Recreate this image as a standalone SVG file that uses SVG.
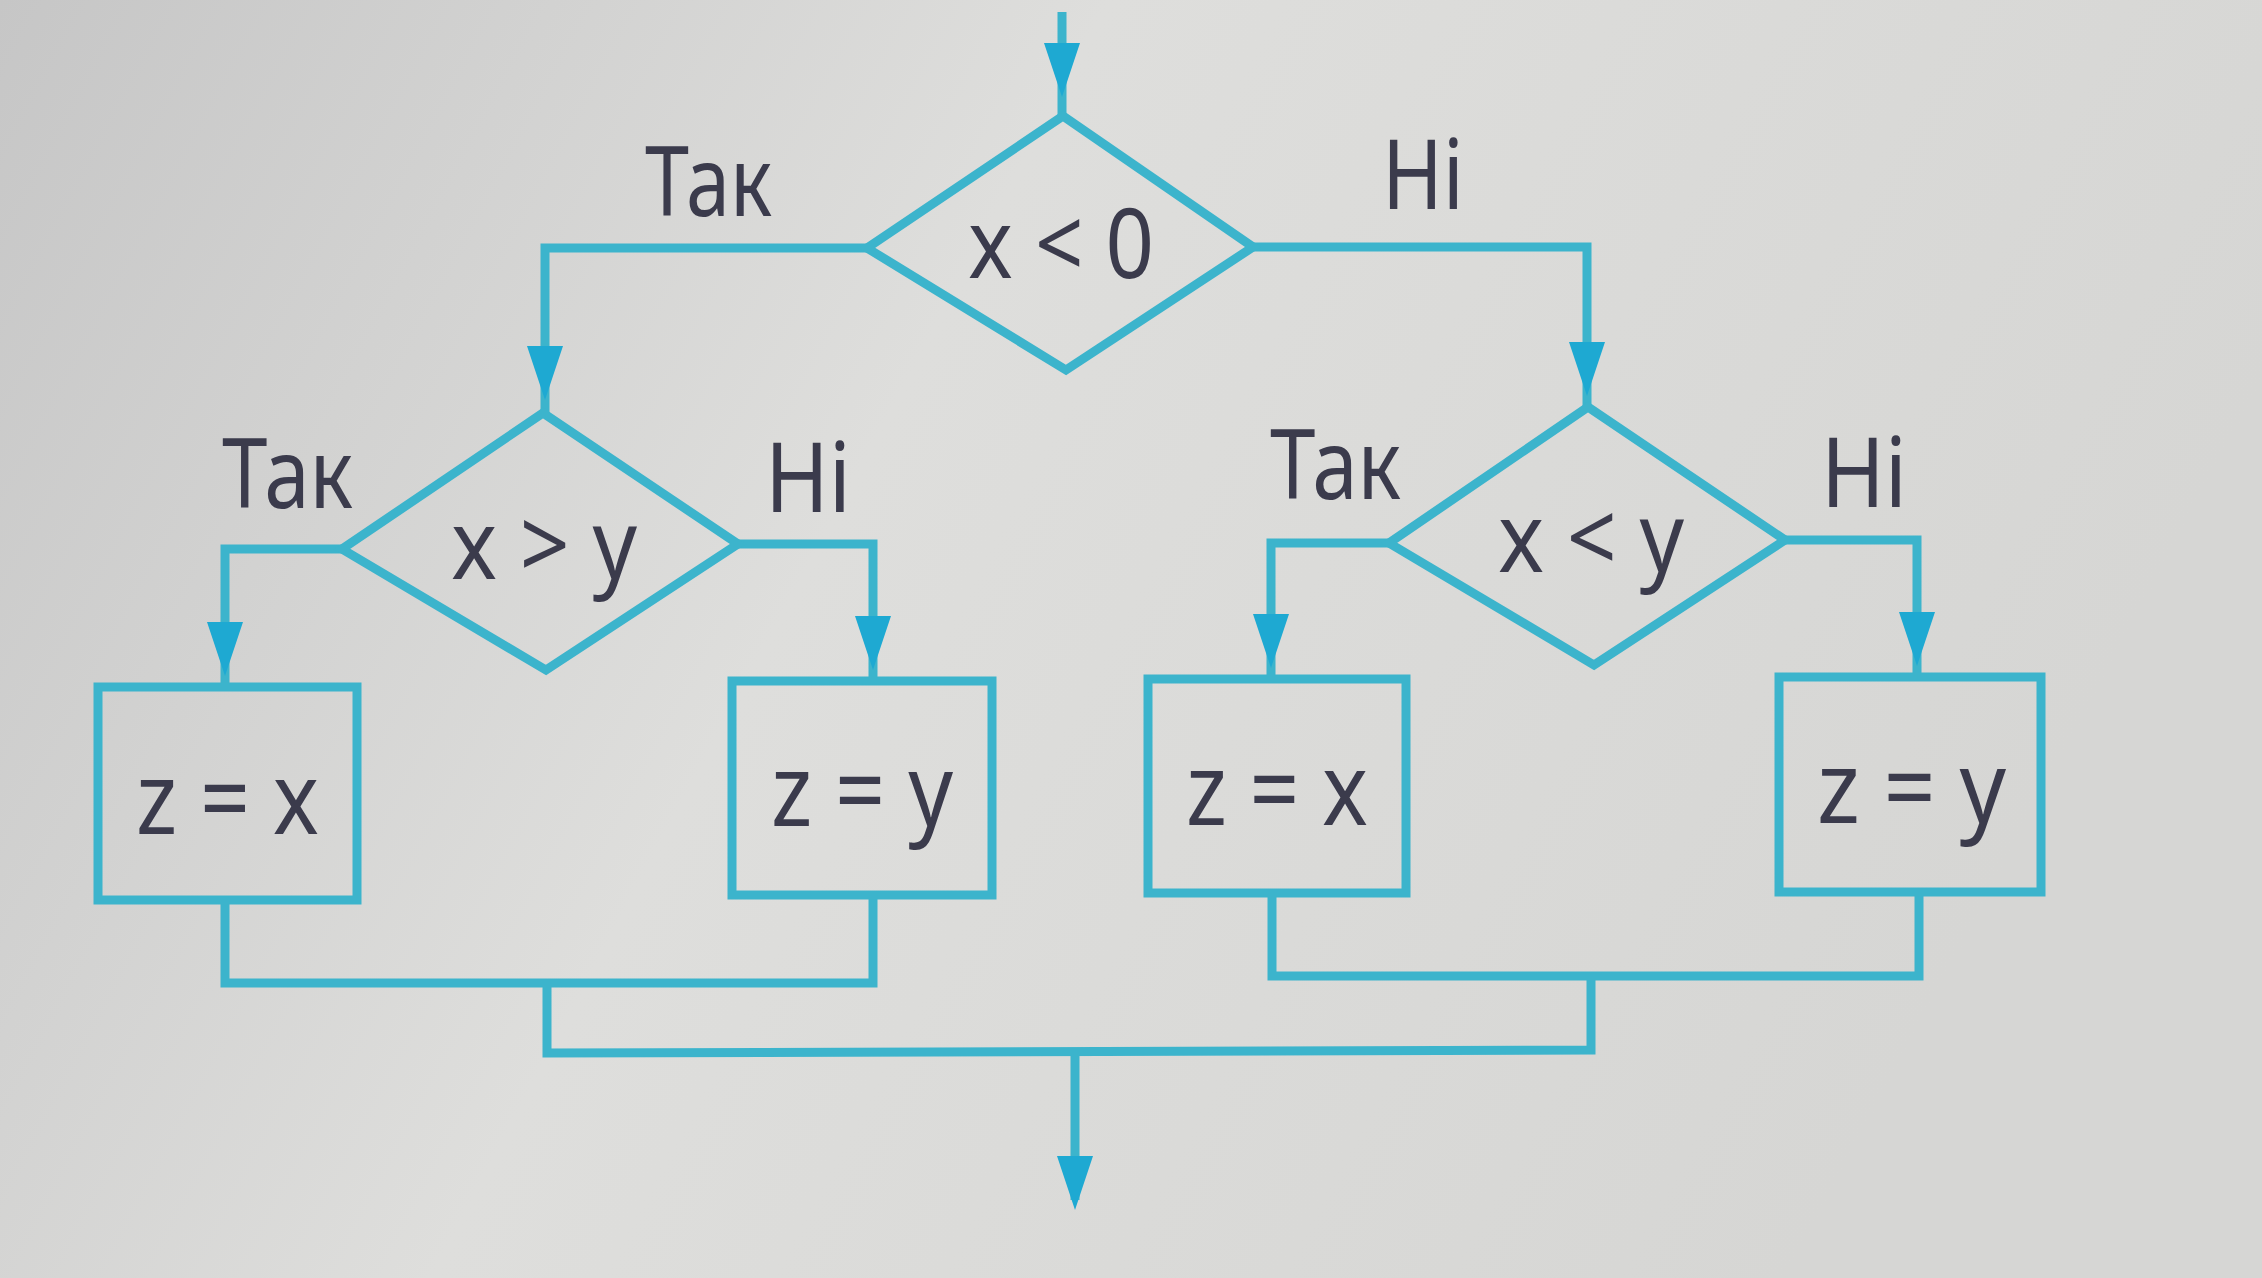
<svg xmlns="http://www.w3.org/2000/svg" width="2262" height="1278" viewBox="0 0 2262 1278">
<defs>
<linearGradient id="bg" x1="0" y1="0" x2="1" y2="0.3">
<stop offset="0" stop-color="#c6c6c6"/>
<stop offset="0.45" stop-color="#dededc"/>
<stop offset="1" stop-color="#d6d6d4"/>
</linearGradient>
<path id="ah" d="M-18,-54 L18,-54 L0,0 Z"/>
<style>
.ln{fill:none;stroke:#3cb4cc;stroke-width:9;stroke-linejoin:miter}
.sh{fill:none;stroke:#3cb4cc;stroke-width:9}
.hd{fill:#1ea9d2}
.t{font-family:"Noto Sans","Liberation Sans",sans-serif;fill:#3b3b4c}
.lb{font-size:97px}
.ex{font-size:96px}
.bx{font-size:100px}
</style>
</defs>
<rect width="2262" height="1278" fill="url(#bg)"/>

<g id="connectors">
<path class="ln" d="M1062,12 L1062,116"/>
<path class="ln" d="M867,248 L545,248 L545,413"/>
<path class="ln" d="M1253,247 L1587,247 L1587,407"/>
<path class="ln" d="M342,549 L225,549 L225,687"/>
<path class="ln" d="M738,544 L873,544 L873,681"/>
<path class="ln" d="M1389,543 L1271,543 L1271,679"/>
<path class="ln" d="M1785,540 L1917,540 L1917,677"/>
<path class="ln" d="M225,900 L225,983 L873,983 L873,895"/>
<path class="ln" d="M1272,893 L1272,976 L1919,976 L1919,892"/>
<path class="ln" d="M547,983 L547,1053 L1591,1050 L1591,976"/>
<path class="ln" d="M1075,1052 L1075,1200"/>
<use href="#ah" class="hd" x="1062" y="97"/>
<use href="#ah" class="hd" x="545" y="400"/>
<use href="#ah" class="hd" x="1587" y="396"/>
<use href="#ah" class="hd" x="225" y="676"/>
<use href="#ah" class="hd" x="873" y="670"/>
<use href="#ah" class="hd" x="1271" y="668"/>
<use href="#ah" class="hd" x="1917" y="666"/>
<use href="#ah" class="hd" x="1075" y="1210"/>
<text class="t lb" x="645" y="216" textLength="127" lengthAdjust="spacingAndGlyphs">Так</text>
<text class="t lb" x="1382" y="209" textLength="82" lengthAdjust="spacingAndGlyphs">Ні</text>
<text class="t lb" x="222" y="508" textLength="131" lengthAdjust="spacingAndGlyphs">Так</text>
<text class="t lb" x="765" y="512" textLength="86" lengthAdjust="spacingAndGlyphs">Ні</text>
<text class="t lb" x="1270" y="499" textLength="131" lengthAdjust="spacingAndGlyphs">Так</text>
<text class="t lb" x="1821" y="507" textLength="86" lengthAdjust="spacingAndGlyphs">Ні</text>
</g>

<g id="d1">
<polygon class="sh" points="1063,116 1253,247 1066,370 867,248"/>
<text class="t ex" x="968" y="278" textLength="186" lengthAdjust="spacingAndGlyphs">x &lt; 0</text>
</g>
<g id="d2">
<polygon class="sh" points="543,413 738,544 546,670 342,549"/>
<text class="t ex" x="451" y="579" textLength="186" lengthAdjust="spacingAndGlyphs">x &gt; y</text>
</g>
<g id="d3">
<polygon class="sh" points="1588,407 1785,540 1594,665 1389,543"/>
<text class="t ex" x="1498" y="572" textLength="186" lengthAdjust="spacingAndGlyphs">x &lt; y</text>
</g>
<g id="b1">
<rect class="sh" x="98" y="687" width="259" height="213"/>
<text class="t bx" x="136" y="834" textLength="183" lengthAdjust="spacingAndGlyphs">z = x</text>
</g>
<g id="b2">
<rect class="sh" x="732" y="681" width="260" height="214"/>
<text class="t bx" x="771" y="826" textLength="182" lengthAdjust="spacingAndGlyphs">z = y</text>
</g>
<g id="b3">
<rect class="sh" x="1148" y="679" width="258" height="214"/>
<text class="t bx" x="1186" y="825" textLength="182" lengthAdjust="spacingAndGlyphs">z = x</text>
</g>
<g id="b4">
<rect class="sh" x="1779" y="677" width="262" height="215"/>
<text class="t bx" x="1817" y="823" textLength="189" lengthAdjust="spacingAndGlyphs">z = y</text>
</g>
</svg>
